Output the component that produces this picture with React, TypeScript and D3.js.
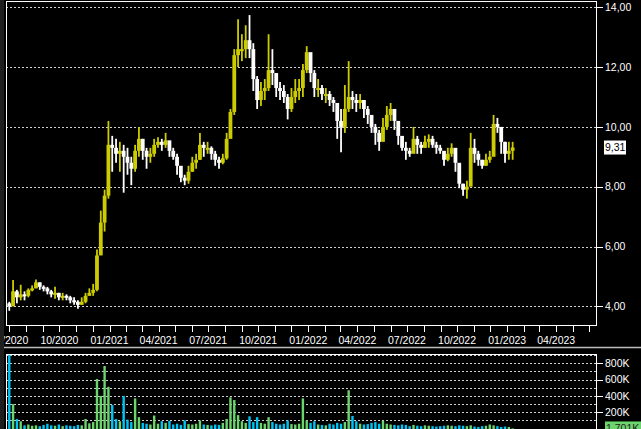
import React from 'react';
import * as d3 from 'd3';

// Weekly bars, first week starting 01/07/2020
const closes = [
  4.0, 4.5, 4.3, 4.4, 4.35, 4.55, 4.6, 4.8, 4.65, 4.6,
  4.5, 4.4, 4.45, 4.3, 4.35, 4.3, 4.2, 4.15, 4.05, 4.15,
  4.35, 4.45, 4.55, 5.7, 6.8, 7.7, 9.4, 9.3, 9.1, 9.2,
  9.0, 8.8, 8.6, 9.2, 9.6, 9.2, 9.0, 9.1, 9.4, 9.5,
  9.4, 9.55, 9.2, 9.0, 8.7, 8.3, 8.2, 8.5, 8.8, 8.9,
  9.4, 9.3, 9.3, 9.1, 8.9, 8.8, 8.95, 9.6, 10.5, 12.4,
  12.6, 12.6, 12.9, 12.6, 11.6, 10.9, 11.2, 11.3, 11.9, 11.8,
  11.3, 11.2, 11.0, 10.6, 11.0, 11.2, 11.3, 11.9, 12.5, 11.8,
  11.3, 11.3, 11.1, 11.1, 10.9, 10.8, 10.2, 10.0, 10.6, 11.0,
  10.9, 10.8, 10.9, 10.6, 10.4, 10.0, 9.8, 9.5, 10.0, 10.4,
  10.6, 10.2, 9.7, 9.3, 9.2, 9.1, 9.6, 9.4, 9.3, 9.5,
  9.6, 9.4, 9.3, 9.2, 8.9, 9.1, 9.3, 8.8, 8.1, 7.9,
  8.0, 9.3, 9.1, 8.9, 8.7, 8.9, 9.0, 10.1, 10.0, 9.5,
  9.1, 9.2, 9.31,
];
const highs = [
  4.15, 4.88, 4.55, 4.72, 4.5, 4.6, 4.7, 4.9, 4.8, 4.7,
  4.65, 4.55, 4.65, 4.45, 4.45, 4.4, 4.35, 4.3, 4.2, 4.3,
  4.45, 4.6, 4.75, 5.9, 7.2, 7.9, 10.2, 9.7, 9.6, 9.5,
  9.4, 9.3, 9.0, 9.4, 10.0, 9.6, 9.3, 9.3, 9.6, 9.65,
  9.6, 9.8, 9.5, 9.3, 9.1, 8.6, 8.4, 8.7, 9.0, 9.1,
  9.8, 9.5, 9.5, 9.35, 9.2, 9.0, 9.1, 9.8, 10.6, 12.6,
  13.6, 13.1, 13.4, 13.74, 12.8, 11.7, 11.5, 11.6, 13.1, 12.6,
  11.8, 11.5, 11.4, 11.1, 11.3, 11.6, 11.6, 12.1, 12.7, 12.3,
  11.9, 11.6, 11.4, 11.3, 11.2, 11.0, 10.8, 10.6, 11.4, 12.2,
  11.2, 11.1, 11.1, 10.9, 10.7, 10.3, 10.1, 9.9, 10.3, 10.7,
  10.8, 10.6, 10.0, 9.6, 9.5, 9.3, 10.0, 9.7, 9.5, 9.7,
  9.75, 9.7, 9.5, 9.4, 9.1, 9.3, 9.45, 9.0, 8.45, 8.1,
  8.2, 9.8, 9.6, 9.2, 8.9, 9.1, 9.2, 10.4, 10.3, 9.9,
  9.5, 9.5, 9.5,
];
const lows = [
  3.85, 4.0, 4.1, 4.2, 4.2, 4.3, 4.5, 4.6, 4.55, 4.5,
  4.4, 4.3, 4.25, 4.2, 4.2, 4.2, 4.1, 4.05, 3.92, 4.05,
  4.1, 4.35, 4.35, 4.5, 5.8, 6.5, 7.6, 8.5, 8.8, 8.5,
  7.8, 8.4, 8.05, 8.5, 9.0, 8.9, 8.6, 8.8, 9.0, 9.3,
  9.2, 9.3, 9.0, 8.9, 8.4, 8.15, 8.05, 8.1, 8.5, 8.6,
  8.9, 9.0, 9.1, 8.9, 8.7, 8.6, 8.75, 8.9, 9.9, 10.4,
  12.0, 12.2, 12.3, 12.3, 11.2, 10.6, 10.7, 10.9, 11.2, 11.4,
  11.0, 10.9, 10.8, 10.25, 10.5, 10.8, 10.9, 11.0, 11.8, 11.5,
  11.0, 11.0, 10.9, 10.8, 10.7, 10.5, 9.6, 9.15, 9.8, 10.5,
  10.6, 10.5, 10.6, 10.3, 10.1, 9.8, 9.4, 9.2, 9.6, 9.9,
  10.2, 9.9, 9.4, 9.2, 8.9, 9.0, 9.2, 9.1, 9.1, 9.3,
  9.3, 9.3, 9.1, 9.1, 8.7, 8.85, 9.0, 8.5, 7.95, 7.7,
  7.6, 8.3, 8.8, 8.7, 8.6, 8.7, 8.8, 9.5, 9.8, 9.1,
  8.8, 8.9, 8.9,
];
const volumesK = [
  1200, 300, 118, 90, 40, 50, 35, 40, 30, 45,
  60, 40, 35, 50, 30, 40, 35, 30, 45, 40,
  118, 65, 80, 607, 400, 767, 512, 290, 118, 90,
  400, 110, 80, 370, 140, 70, 60, 50, 160, 60,
  90, 70, 95, 50, 60, 45, 100, 55, 50, 60,
  100, 50, 45, 40, 50, 45, 70, 118, 383, 350,
  165, 90, 70, 150, 80, 140, 70, 60, 140, 80,
  60, 50, 60, 100, 55, 50, 60, 370, 100, 70,
  90, 50, 45, 40, 60, 50, 70, 60, 80, 470,
  155, 90, 60, 50, 55, 70, 80, 60, 95, 60,
  50, 45, 40, 50, 45, 30, 45, 35, 30, 40,
  35, 30, 25, 30, 35, 40, 35, 30, 40, 35,
  30, 40, 25, 20, 30, 35, 50, 40, 30, 20,
  25, 20, 1.701,
];
const firstOpen = 4.1;
const priceTicks = [4, 6, 8, 10, 12, 14];
const volGridK = [100, 200, 300, 400, 500, 600, 700, 800, 900];
const volLabelK = [200, 400, 600, 800];

const YELLOW = '#cccc00';
const WHITE = '#ffffff';
const GREEN = '#6cd46c';
const CYAN = '#00c4f4';
const GRID = '#d0d0d0';
const FONT = '"Liberation Sans", Arial, sans-serif';

export default function App() {
  const W = 641;
  const H = 429;
  const left = 6;
  const right = 596;
  const pTop = 1;
  const pBottom = 325;
  const vTop = 354;
  const vBottom = 429;

  const start = new Date(2020, 6, 1);
  const dates = closes.map((_, i) => d3.timeDay.offset(start, 7 * i));
  const x = d3
    .scaleTime()
    .domain([new Date(2020, 5, 25), new Date(2023, 5, 13)])
    .range([left, right]);
  const y = d3.scaleLinear().domain([4, 14]).range([306.3, 7.3]);
  const yv = d3.scaleLinear().domain([0, 800]).range([428.6, 363.3]);

  const months = d3.timeMonth.range(new Date(2020, 6, 1), new Date(2023, 6, 1));
  const fmt = d3.timeFormat('%m/%Y');

  const bars = closes.map((c, i) => {
    const o = i === 0 ? firstOpen : closes[i - 1];
    return { d: dates[i], o, c, h: highs[i], l: lows[i], v: volumesK[i], up: c >= o };
  });

  const last = bars[bars.length - 1];
  const fmtPrice = (v: number) => v.toFixed(2).replace('.', ',');

  return (
    <div style={{ position: 'fixed', left: 0, top: 0, width: W, height: H, background: '#000' }}>
      <svg width={W} height={H} style={{ display: 'block', background: '#000' }} fontFamily={FONT}>
        <defs>
          <clipPath id="pclip">
            <rect x={left + 1} y={pTop + 1} width={right - left - 1} height={pBottom - pTop - 1} />
          </clipPath>
          <clipPath id="vclip">
            <rect x={left + 1} y={vTop + 1} width={right - left - 1} height={vBottom - vTop} />
          </clipPath>
        </defs>
        <rect x={0} y={0} width={W} height={H} fill="#000" />

        {/* price grid */}
        {priceTicks.map((t) => (
          <line key={'pg' + t} x1={left} x2={right} y1={Math.round(y(t)) + 0.5} y2={Math.round(y(t)) + 0.5}
            stroke={GRID} strokeDasharray="2,2" strokeWidth={1} />
        ))}

        {/* candles */}
        <g clipPath="url(#pclip)">
          {bars.map((b, i) => {
            const cx = x(b.d);
            const col = b.up ? YELLOW : WHITE;
            const top = y(Math.max(b.o, b.c));
            const bot = y(Math.min(b.o, b.c));
            return (
              <g key={'c' + i}>
                <line x1={cx} x2={cx} y1={y(b.h)} y2={y(b.l)} stroke={col} strokeWidth={1.8} />
                <rect x={cx - 1.9} y={top} width={3.8} height={Math.max(2, bot - top)} fill={col} />
              </g>
            );
          })}
        </g>

        {/* price frame */}
        <rect x={left + 0.5} y={pTop + 0.5} width={right - left} height={pBottom - pTop} fill="none" stroke="#fff" strokeWidth={1} />

        {/* right axis */}
        {priceTicks.map((t) => (
          <g key={'pt' + t}>
            <line x1={right} x2={right + 7} y1={Math.round(y(t)) + 0.5} y2={Math.round(y(t)) + 0.5} stroke="#fff" />
            <text x={605} y={y(t)} dy="0.36em" fill="#fff" fontSize={10.5}>{fmtPrice(t)}</text>
          </g>
        ))}

        {/* last price label */}
        <rect x={604} y={y(last.c) - 7} width={22} height={14} fill="#fff" />
        <text x={605} y={y(last.c)} dy="0.36em" fill="#000" fontSize={10.5}>{fmtPrice(last.c)}</text>

        {/* x axis */}
        {months.map((m, i) => (
          <line key={'xt' + i} x1={Math.round(x(m)) + 0.5} x2={Math.round(x(m)) + 0.5} y1={pBottom} y2={pBottom + 7} stroke="#fff" />
        ))}
        {months.filter((m) => m.getMonth() % 3 === 0).map((m, i) => (
          <text key={'xl' + i} x={x(m)} y={344} textAnchor="middle" fill="#fff" fontSize={10.5}>{fmt(m)}</text>
        ))}

        {/* separator */}
        <line x1={0} x2={W} y1={347.5} y2={347.5} stroke="#bdbdbd" strokeWidth={1.5} />

        {/* volume grid */}
        {volGridK.map((t) => (
          <line key={'vg' + t} x1={left} x2={right} y1={Math.round(yv(t)) + 0.5} y2={Math.round(yv(t)) + 0.5}
            stroke={GRID} strokeDasharray="2,2" />
        ))}

        {/* volume bars */}
        <g clipPath="url(#vclip)">
          {bars.map((b, i) => (
            <rect key={'v' + i} x={x(b.d) - 1.2} y={yv(b.v)} width={2.4} height={Math.max(0, yv(0) - yv(b.v)) + 1}
              fill={b.up ? GREEN : CYAN} />
          ))}
        </g>

        {/* volume frame */}
        <rect x={left + 0.5} y={vTop + 0.5} width={right - left} height={vBottom - vTop + 5} fill="none" stroke="#fff" />
        {volLabelK.map((t) => (
          <g key={'vt' + t}>
            <line x1={right} x2={right + 7} y1={Math.round(yv(t)) + 0.5} y2={Math.round(yv(t)) + 0.5} stroke="#fff" />
            <text x={605} y={yv(t)} dy="0.36em" fill="#fff" fontSize={10.5}>{t}K</text>
          </g>
        ))}
        <rect x={605} y={yv(last.v) - 7} width={36} height={14} fill={GREEN} />
        <text x={606} y={yv(last.v)} dy="0.36em" fill="#222" fontSize={10.5}>{last.v.toFixed(3)}K</text>

        {/* left strip */}
        <rect x={0} y={0} width={4} height={H} fill="#1f1f1f" />
      </svg>
    </div>
  );
}
